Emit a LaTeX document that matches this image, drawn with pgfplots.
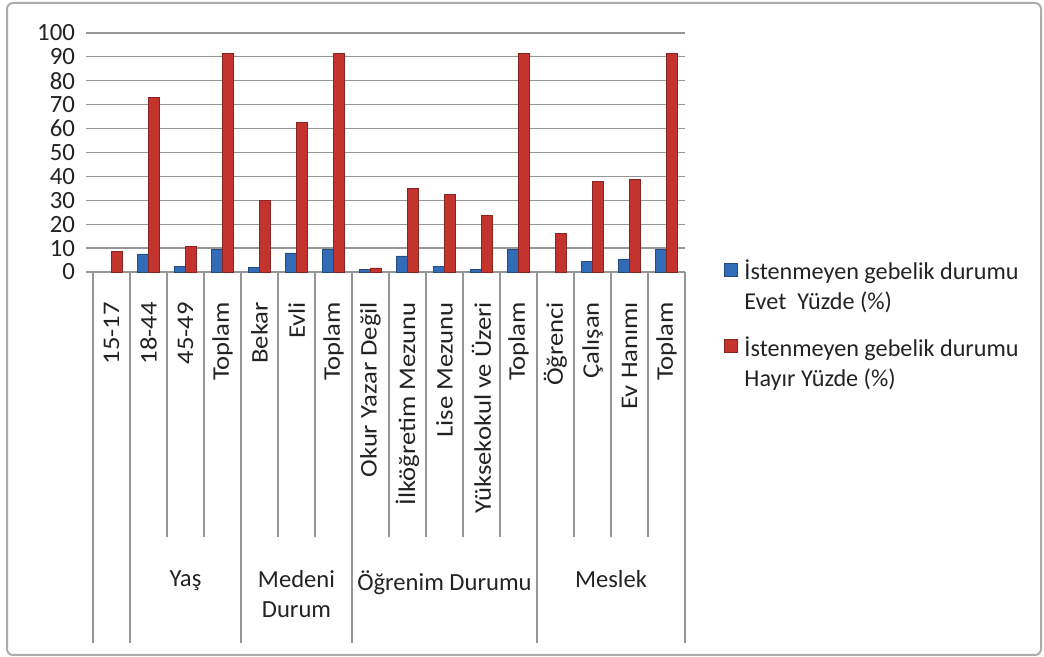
\documentclass[border=0pt]{standalone}
\usepackage{fontspec}
\setmainfont{Carlito}
\newfontfamily\stretchfont[FakeStretch=1.12]{Carlito}
\usepackage{pgfplots}
\usepackage{pgfplotstable}
\pgfplotsset{compat=1.18}

\definecolor{barblue}{RGB}{50,108,182}
\definecolor{barred}{RGB}{196,52,47}
\definecolor{gridgray}{RGB}{150,150,150}
\definecolor{txt}{RGB}{35,35,35}

\pgfplotstableread{
x yes no
1 nan 8.7
2 7.6 73.2
3 2.3 10.8
4 9.3 91.5
5 1.8 29.8
6 8.0 62.5
7 9.3 91.5
8 1.1 1.7
9 6.7 35.0
10 2.3 32.3
11 1.1 23.6
12 9.3 91.5
13 nan 16.2
14 4.4 37.8
15 5.5 38.7
16 9.3 91.5
}\data

\begin{document}
\begin{tikzpicture}[x=1pt,y=1pt]
\path[use as bounding box] (0,0) rectangle (522,328.5);
\draw[rounded corners=3pt, gray!65, line width=1pt] (3.5,1) rectangle (520.5,327);
\begin{axis}[
  at={(46.5pt,192.5pt)}, anchor=south west,
  scale only axis, width=296pt, height=119.5pt,
  xmin=0.5, xmax=16.5, ymin=0, ymax=100,
  clip=false,
  ybar=0pt, bar width=5.5pt,
  axis x line*=bottom, axis y line*=left,
  y axis line style={draw=none},
  x axis line style={draw=gridgray, line width=0.6pt},
  ytick={0,10,...,100},
  ymajorgrids, grid style={draw=gridgray, line width=0.6pt},
  tick align=outside, major tick length=3.5pt,
  ytick style={draw=gridgray, line width=0.6pt},
  xtick style={draw=none},
  xtick={1,...,16},
  xticklabels={15-17,18-44,45-49,Toplam,Bekar,Evli,Toplam,Okur Yazar Değil,İlköğretim Mezunu,Lise Mezunu,Yüksekokul ve Üzeri,Toplam,Öğrenci,Çalışan,Ev Hanımı,Toplam},
  xticklabel style={rotate=90, anchor=east, font=\stretchfont\fontsize{11.9}{14}\selectfont, text=txt},
  xticklabel shift=8pt,
  yticklabel style={font=\fontsize{12.4}{14}\selectfont, text=txt},
  yticklabel shift=2pt,
  /pgf/number format/assume math mode=true,
  legend image code/.code={\fill[#1] (0pt,5pt) rectangle (6.5pt,11.5pt);},
  legend style={at={(1.065,0.07)}, anchor=north west, draw=none, fill=none,
    font=\fontsize{12.1}{15}\selectfont, text=txt,
    cells={anchor=west, align=left}, row sep=8pt, inner sep=0pt},
]
\addplot[fill=barblue, draw=barblue!70!black, line width=0.3pt] table[x=x,y=yes]{\data};
\addlegendentry{\hspace{1.5pt}İstenmeyen gebelik durumu\\\hspace{1.5pt}Evet\ \ Yüzde (\%)}
\addplot[fill=barred, draw=barred!70!black, line width=0.3pt] table[x=x,y=no]{\data};
\addlegendentry{\hspace{1.5pt}İstenmeyen gebelik durumu\\\hspace{1.5pt}Hayır Yüzde (\%)}

\pgfplotsinvokeforeach{2.5,3.5,5.5,6.5,8.5,9.5,10.5,11.5,13.5,14.5,15.5}{
  \draw[draw=gridgray, line width=0.6pt] (axis cs:#1,0) -- ++(0pt,-132.5pt);}
\pgfplotsinvokeforeach{0.5,1.5,4.5,7.5,12.5,16.5}{
  \draw[draw=gridgray, line width=0.6pt] (axis cs:#1,0) -- ++(0pt,-185.5pt);}

\begin{scope}[every node/.style={anchor=north, inner sep=0pt, align=center, text=txt,
    font=\fontsize{12.3}{15}\selectfont}]
\node at (axis cs:3,0) [yshift=-149pt] {Yaş};
\node at (axis cs:6,0) [yshift=-149pt] {Medeni\\Durum};
\node at (axis cs:10,0) [yshift=-149pt] {Öğrenim Durumu};
\node at (axis cs:14.5,0) [yshift=-149pt] {Meslek};
\end{scope}
\end{axis}
\end{tikzpicture}
\end{document}
